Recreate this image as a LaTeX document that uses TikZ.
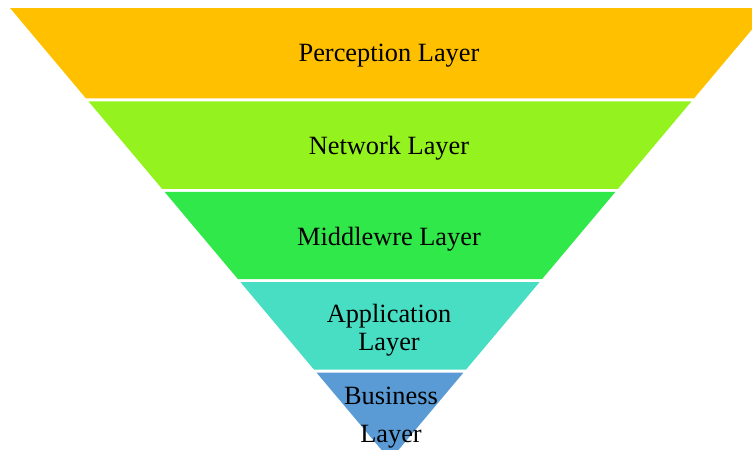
\documentclass[tikz,border=0pt]{standalone}
\usepackage{fontspec}
\setmainfont{Liberation Serif}
\usepackage{tikz}

\definecolor{perceptionc}{RGB}{255,192,0}
\definecolor{networkc}{RGB}{148,242,30}
\definecolor{middlec}{RGB}{48,232,74}
\definecolor{appc}{RGB}{72,222,196}
\definecolor{businessc}{RGB}{91,155,213}

\tikzset{
  layertext/.style={align=center, font=\fontsize{15}{16}\selectfont, text=black},
}

\begin{document}
\begin{tikzpicture}[x=0.02cm, y=-0.02cm]
\useasboundingbox (0,0) rectangle (752,450);
\clip (0,0) rectangle (752,450);
% inverted triangle: top edge at y=8 from x=10 to x=770, apex at (390,460)
\foreach \col [count=\i from 0] in {perceptionc,networkc,middlec,appc,businessc}{
  \pgfmathsetmacro{\ytop}{8+90.4*\i+(\i>0)*3}
  \pgfmathsetmacro{\ybot}{8+90.4*(\i+1)}
  \pgfmathsetmacro{\lt}{10+(\ytop-8)*0.8407}
  \pgfmathsetmacro{\lb}{10+(\ybot-8)*0.8407}
  \fill[\col] (\lt,\ytop) -- (780-\lt,\ytop) -- (780-\lb,\ybot) -- (\lb,\ybot) -- cycle;
}
\node[layertext] (perception) at (389,56) {Perception Layer};
\node[layertext] (network) at (389,148) {Network Layer};
\node[layertext] (middleware) at (389,239) {Middlewre Layer};
\node[layertext] (application) at (389,330) {Application\\Layer};
\node[layertext] (business) at (391,418) {Business\\[5.5pt]Layer};
\end{tikzpicture}
\end{document}
